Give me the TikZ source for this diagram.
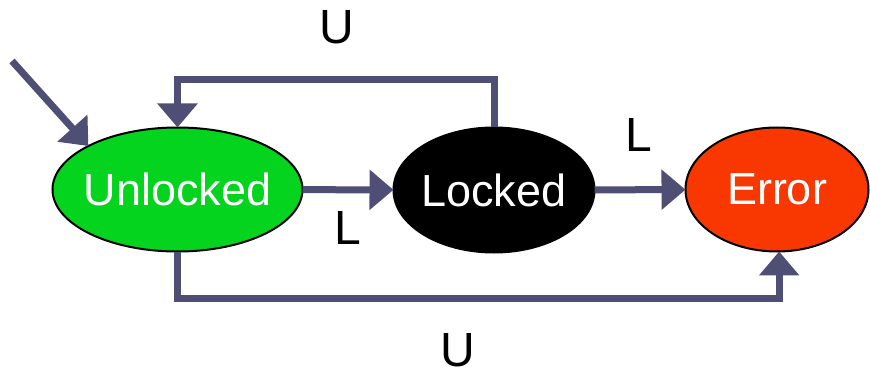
\documentclass[tikz,border=0pt]{standalone}
\usepackage{fontspec}
\setmainfont{Liberation Sans}
\usetikzlibrary{shapes.geometric,arrows.meta}

\definecolor{wire}{RGB}{79,79,118}
\definecolor{okgreen}{RGB}{4,212,30}
\definecolor{errred}{RGB}{248,56,0}

\tikzset{
  state/.style={ellipse, draw=black, line width=2pt, inner sep=0pt, outer sep=0pt},
  statetext/.style={text=white, inner sep=0pt, font=\fontsize{45}{45}\selectfont},
  edge/.style={draw=wire, line width=7pt,
    -{Triangle[length=24pt,width=39pt]}},
  lbl/.style={inner sep=0pt, font=\fontsize{48}{48}\selectfont}
}

\begin{document}
\begin{tikzpicture}[x=1pt,y=-1pt]
  \useasboundingbox (0,0) rectangle (870,374);

  % states: the ellipse sizes are fixed, the names sit in their centres
  \node[state, fill=okgreen, minimum width=250pt, minimum height=124pt,
        label={[statetext]center:Unlocked}] (unl) at (177.5,189.5) {};
  \node[state, fill=black, minimum width=201pt, minimum height=125pt,
        label={[statetext]center:Locked}] (lck) at (494,190) {};
  \node[state, fill=errred, minimum width=183pt, minimum height=124pt,
        label={[statetext]center:Error}] (err) at (777,189.5) {};

  % routing levels and the free start of the initial arrow
  \coordinate (topY) at (0,79.5);
  \coordinate (botY) at (0,298);
  \coordinate (init) at (12,61);

  % transitions
  \draw[edge] (init) -- (unl.154);
  \draw[edge] (unl) -- (lck);
  \draw[edge] (lck) -- (err);
  \draw[edge] (lck.north) |- (topY -| unl.north) -- (unl.north);
  \draw[edge] (unl.south) |- (botY -| err.-88) -- (err.-88);

  % transition labels
  \node[lbl] (uTop) at (336.5,27) {U};
  \node[lbl] (lMid) at (347.5,227.5) {L};
  \node[lbl] (lRight) at (639,135) {L};
  \node[lbl] (uBot) at (457.5,350) {U};
\end{tikzpicture}
\end{document}
